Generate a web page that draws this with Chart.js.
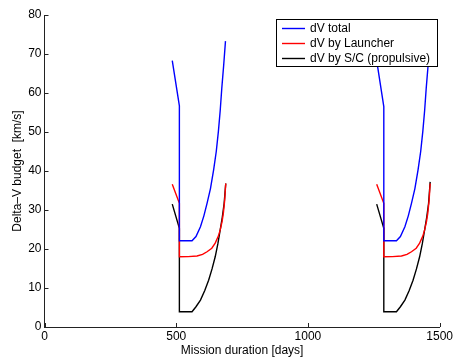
<!DOCTYPE html>
<html>
<head>
<meta charset="utf-8">
<script src="https://cdn.jsdelivr.net/npm/chart.js@4.4.1/dist/chart.umd.min.js"></script>
<style>
  html, body { margin: 0; padding: 0; background: #fff; }
</style>
</head>
<body>
<canvas id="dv" width="455" height="359"></canvas>
<script>
// mission duration [days] and delta-v [km/s], two launch windows each
const totalDays1 = [485, 512, 512, 560, 575, 592, 605, 617, 630, 642, 652, 660, 667, 673, 680, 687];
const totalDv1   = [68.3, 56.7, 22.1, 22.1, 23.2, 25.7, 28.5, 31.7, 35.5, 40.3, 45.0, 50.1, 55.5, 61.2, 67.0, 73.3];
const totalDays2 = [1261, 1288, 1288, 1336, 1351, 1368, 1381, 1393, 1406, 1418, 1428, 1436, 1443, 1449, 1456, 1463];
const totalDv2   = [68.3, 56.5, 22.1, 22.1, 23.2, 25.7, 28.5, 31.7, 35.5, 40.3, 45.0, 50.1, 55.5, 61.2, 67.0, 73.3];

const launcherDays1 = [485, 512, 512, 545, 579, 600, 617, 635, 648, 660, 667, 674, 679, 684, 688];
const launcherDv1   = [36.6, 31.7, 18.0, 18.05, 18.2, 18.6, 19.3, 20.2, 21.5, 23.3, 24.9, 27.0, 29.2, 32.5, 36.8];
const launcherDays2 = [1261, 1288, 1288, 1321, 1355, 1376, 1393, 1411, 1424, 1436, 1443, 1450, 1455, 1460, 1464];
const launcherDv2   = [36.6, 31.7, 18.0, 18.05, 18.2, 18.6, 19.3, 20.2, 21.5, 23.3, 24.9, 27.0, 29.2, 32.5, 36.8];

const scDays1 = [485, 512, 512, 560, 575, 592, 608, 623, 636, 648, 658, 667, 675, 682, 688];
const scDv1   = [31.5, 25.3, 3.9, 3.9, 5.2, 6.9, 9.3, 12.0, 14.9, 18.0, 21.3, 24.9, 28.2, 31.7, 36.8];
const scDays2 = [1261, 1288, 1288, 1336, 1351, 1368, 1384, 1399, 1412, 1424, 1434, 1443, 1451, 1458, 1464];
const scDv2   = [31.5, 25.3, 3.9, 3.9, 5.2, 6.9, 9.3, 12.0, 14.9, 18.0, 21.3, 24.9, 28.2, 31.7, 37.2];

const seriesLabels = ['dV total', 'dV by Launcher', 'dV by S/C (propulsive)'];
const seriesColors = ['#0000ff', '#ff0000', '#000000'];
const xTicks = [0, 500, 1000, 1500];

// join both windows with a null so the line breaks in between
function pts(d1, v1, d2, v2) {
  const out = d1.map((d, i) => ({ x: d, y: v1[i] }));
  out.push({ x: 1000, y: null });
  d2.forEach((d, i) => out.push({ x: d, y: v2[i] }));
  return out;
}

const FONT = 'Liberation Sans, Arial, Helvetica, sans-serif';

// inward tick marks like matlab
const inTicks = {
  id: 'inTicks',
  afterDraw(chart) {
    const { ctx, chartArea, scales } = chart;
    ctx.save();
    ctx.strokeStyle = '#222';
    ctx.lineWidth = 1;
    ctx.beginPath();
    scales.x.ticks.forEach(t => {
      const px = Math.round(scales.x.getPixelForValue(t.value)) + 0.5;
      ctx.moveTo(px, chartArea.bottom);
      ctx.lineTo(px, chartArea.bottom - 4);
    });
    scales.y.ticks.forEach(t => {
      const py = Math.round(scales.y.getPixelForValue(t.value)) + 0.5;
      ctx.moveTo(chartArea.left, py);
      ctx.lineTo(chartArea.left + 4, py);
    });
    ctx.stroke();
    ctx.restore();
  }
};

// boxed legend in the upper right
const boxLegend = {
  id: 'boxLegend',
  afterDatasetsDraw(chart) {
    const ctx = chart.ctx;
    const x0 = 276.5, y0 = 19.5, w = 161, h = 47;
    ctx.save();
    ctx.fillStyle = '#fff';
    ctx.fillRect(x0, y0, w, h);
    ctx.strokeStyle = '#000';
    ctx.lineWidth = 1;
    ctx.strokeRect(x0, y0, w, h);
    ctx.font = '12px ' + FONT;
    ctx.textBaseline = 'middle';
    chart.data.datasets.forEach((ds, i) => {
      const yy = 28.5 + i * 15;
      ctx.strokeStyle = ds.borderColor;
      ctx.lineWidth = 1.4;
      ctx.beginPath();
      ctx.moveTo(282, yy);
      ctx.lineTo(305, yy);
      ctx.stroke();
      ctx.fillStyle = '#000';
      ctx.fillText(ds.label, 310, yy + 0.5);
    });
    ctx.restore();
  }
};

new Chart(document.getElementById('dv'), {
  type: 'scatter',
  data: {
    datasets: [
      { label: seriesLabels[0], data: pts(totalDays1, totalDv1, totalDays2, totalDv2), borderColor: seriesColors[0] },
      { label: seriesLabels[1], data: pts(launcherDays1, launcherDv1, launcherDays2, launcherDv2), borderColor: seriesColors[1] },
      { label: seriesLabels[2], data: pts(scDays1, scDv1, scDays2, scDv2), borderColor: seriesColors[2] }
    ].map(ds => Object.assign(ds, {
      showLine: true, spanGaps: false, pointRadius: 0, borderWidth: 1.4, tension: 0, fill: false
    }))
  },
  options: {
    responsive: false,
    animation: false,
    layout: { padding: { top: 15, right: 13, left: 0, bottom: 0 } },
    plugins: { legend: { display: false }, tooltip: { enabled: false } },
    scales: {
      x: {
        type: 'linear', min: 0, max: 1500,
        afterBuildTicks: s => { s.ticks = xTicks.map(v => ({ value: v })); },
        afterFit: s => { s.height = 32; },
        grid: { display: false, drawTicks: false },
        border: { display: true, color: '#222', width: 1 },
        ticks: { color: '#000', font: { size: 12, family: FONT }, padding: 2, maxRotation: 0, callback: v => String(v) },
        title: { display: true, text: 'Mission duration [days]', color: '#000', font: { size: 12, family: FONT }, padding: { top: 0, bottom: 1 } }
      },
      y: {
        type: 'linear', min: 0, max: 80,
        ticks: { stepSize: 10, color: '#000', font: { size: 12, family: FONT }, padding: 3, callback: v => String(v) },
        afterFit: s => { s.width = 44.5; },
        grid: { display: false, drawTicks: false },
        border: { display: true, color: '#222', width: 1 },
        title: { display: true, text: 'Delta–V budget  [km/s]', color: '#000', font: { size: 12, family: FONT }, padding: { top: 10, bottom: 0 } }
      }
    }
  },
  plugins: [inTicks, boxLegend]
});
</script>
</body>
</html>
